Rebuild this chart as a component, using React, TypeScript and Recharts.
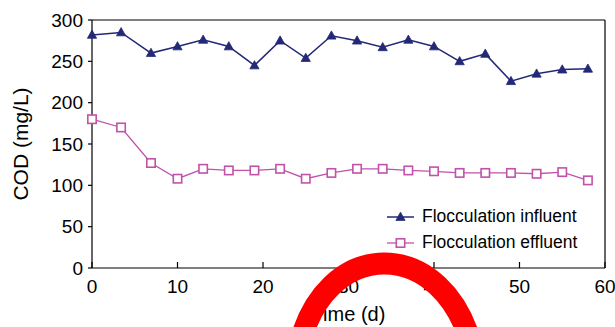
import React from 'react';
import { LineChart, Line, XAxis, YAxis, ReferenceLine, Legend } from 'recharts';

const days = [0, 3.4, 6.9, 10, 13, 16, 19, 22, 25, 28, 31, 34, 37, 40, 43, 46, 49, 52, 55, 58];
const influent = [282, 285, 260, 268, 276, 268, 245, 275, 254, 281, 275, 267, 276, 268, 250, 259, 226, 235, 240, 241];
const effluent = [180, 170, 127, 108, 120, 118, 118, 120, 108, 115, 120, 120, 118, 117, 115, 115, 115, 114, 116, 106];
const xTicks = [0, 10, 20, 30, 40, 50, 60];
const yTicks = [0, 50, 100, 150, 200, 250, 300];

const seriesOrder = ['influent', 'effluent'];
const seriesNames = { influent: 'Flocculation influent', effluent: 'Flocculation effluent' };
const NAVY = '#232877';
const PINK = '#C052AA';
const FONT = '"Liberation Sans", Arial, sans-serif';

const data = days.map((d, i) => ({ day: d, influent: influent[i], effluent: effluent[i] }));

const Triangle = (props: any) => {
  const { cx, cy, index } = props;
  if (cx == null || cy == null) return <g key={`t-${index}`} />;
  return (
    <path
      key={`t-${index}`}
      d={`M${cx},${cy - 4.8} L${cx + 4.6},${cy + 3.4} L${cx - 4.6},${cy + 3.4} Z`}
      fill={NAVY}
      stroke={NAVY}
      strokeWidth={0.8}
    />
  );
};

const Square = (props: any) => {
  const { cx, cy, index } = props;
  if (cx == null || cy == null) return <g key={`s-${index}`} />;
  return (
    <rect key={`s-${index}`} x={cx - 4.2} y={cy - 4.2} width={8.4} height={8.4} fill="#fff" stroke={PINK} strokeWidth={1.6} />
  );
};

const LegendContent = (props: any) => {
  const payload = [...(props.payload || [])].sort(
    (a: any, b: any) => seriesOrder.indexOf(a.dataKey) - seriesOrder.indexOf(b.dataKey)
  );
  return (
    <div style={{ fontFamily: FONT, fontSize: 17.5, color: '#000' }}>
      {payload.map((p: any) => {
        const isInf = p.dataKey === 'influent';
        const c = isInf ? NAVY : PINK;
        return (
          <div key={p.dataKey} style={{ display: 'flex', alignItems: 'center', height: 26, whiteSpace: 'nowrap' }}>
            <svg width={27} height={14} style={{ marginRight: 8, overflow: 'visible' }}>
              <line x1={0} y1={7} x2={27} y2={7} stroke={c} strokeWidth={isInf ? 1.5 : 1.3} />
              {isInf ? (
                <path d="M13.5,2.2 L18.1,10.4 L8.9,10.4 Z" fill={NAVY} stroke={NAVY} strokeWidth={0.8} />
              ) : (
                <rect x={9.3} y={2.8} width={8.4} height={8.4} fill="#fff" stroke={PINK} strokeWidth={1.6} />
              )}
            </svg>
            <span>{p.value}</span>
          </div>
        );
      })}
    </div>
  );
};

const YLabel = (props: any) => {
  const vb = props.viewBox || { x: 0, y: 20, width: 92, height: 248 };
  const x = vb.x + 28;
  const y = vb.y + vb.height / 2;
  return (
    <text x={x} y={y} transform={`rotate(-90 ${x} ${y})`} textAnchor="middle" fontSize={21} fontFamily={FONT} fill="#000">
      COD (mg/L)
    </text>
  );
};

const XLabel = (props: any) => {
  const vb = props.viewBox || { x: 92, y: 268, width: 513, height: 59 };
  const x = vb.x + vb.width / 2;
  const y = vb.y + 53;
  return (
    <text x={x} y={y} textAnchor="middle" fontSize={20} fontFamily={FONT} fill="#000">
      Time (d)
    </text>
  );
};

export default function App() {
  return (
    <div style={{ position: 'absolute', left: 0, top: 0, width: 615, height: 327, background: '#fff' }}>
      <LineChart width={615} height={327} data={data} margin={{ top: 20, right: 10, bottom: 0, left: 0 }}>
        <XAxis
          dataKey="day"
          type="number"
          domain={[0, 60]}
          ticks={xTicks}
          height={59}
          stroke="#000"
          strokeWidth={1.2}
          tickSize={-6}
          tickMargin={18}
          tick={{ fill: '#000', fontSize: 19, fontFamily: FONT }}
          interval={0}
          label={{ value: 'Time (d)', content: XLabel }}
        />
        <YAxis
          type="number"
          domain={[0, 300]}
          ticks={yTicks}
          width={92}
          stroke="#000"
          strokeWidth={1.2}
          tickSize={4}
          tickMargin={5}
          tick={{ fill: '#000', fontSize: 19, fontFamily: FONT }}
          interval={0}
          label={{ value: 'COD (mg/L)', content: YLabel }}
        />
        <ReferenceLine y={300} stroke="#000" strokeWidth={1.2} />
        <ReferenceLine x={60} stroke="#000" strokeWidth={1.2} />
        <Legend
          layout="vertical"
          align="center"
          verticalAlign="middle"
          wrapperStyle={{ left: 387, top: 203.5, width: 225 }}
          content={LegendContent}
        />
        <Line
          dataKey="influent"
          name={seriesNames.influent}
          stroke={NAVY}
          strokeWidth={1.5}
          dot={Triangle}
          activeDot={false}
          isAnimationActive={false}
        />
        <Line
          dataKey="effluent"
          name={seriesNames.effluent}
          stroke={PINK}
          strokeWidth={1.3}
          dot={Square}
          activeDot={false}
          isAnimationActive={false}
        />
      </LineChart>
      <svg width={615} height={327} style={{ position: 'absolute', left: 0, top: 0, pointerEvents: 'none' }}>
        <path d="M298,352 C322,234 446,234 473,352" fill="none" stroke="#FF0000" strokeWidth={22} />
      </svg>
    </div>
  );
}
